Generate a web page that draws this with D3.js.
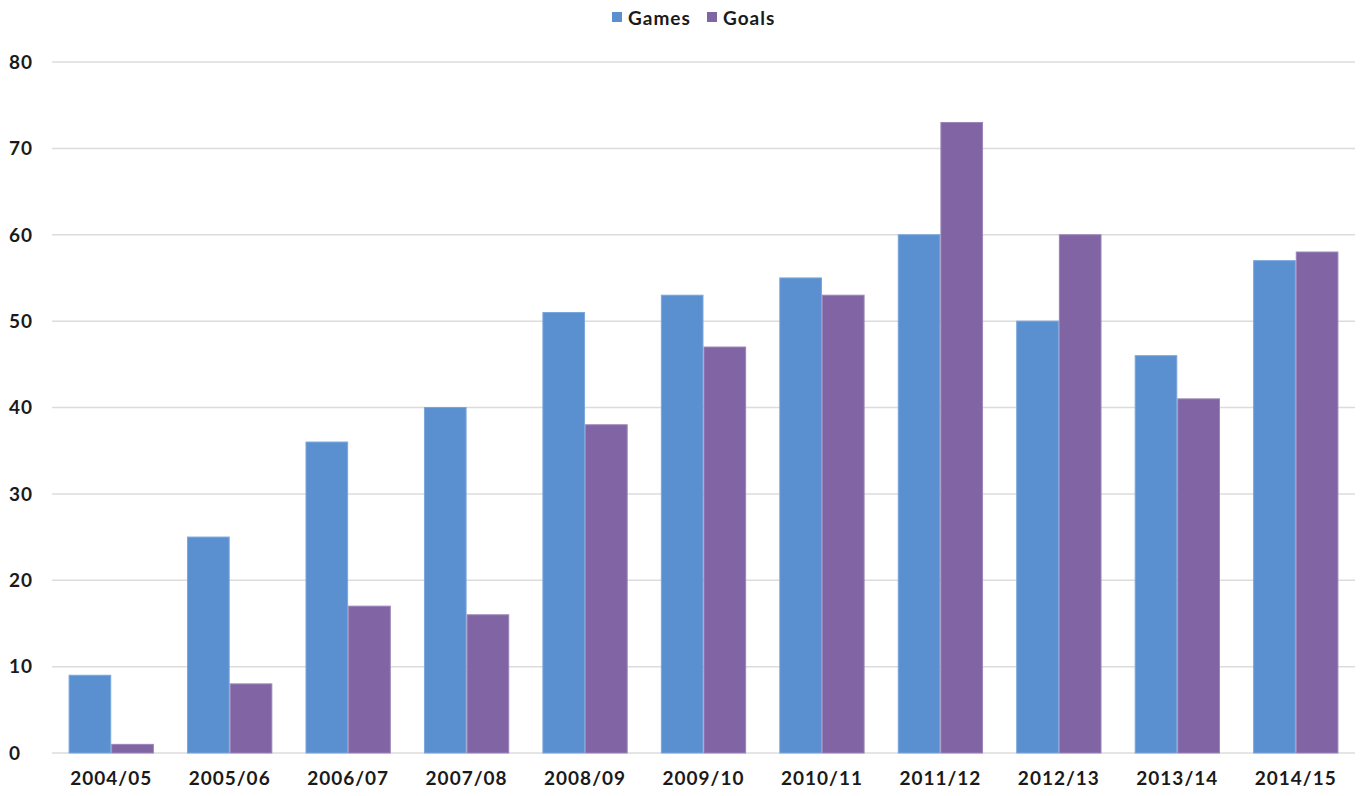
<!DOCTYPE html>
<html><head><meta charset="utf-8">
<script src="https://cdn.jsdelivr.net/npm/d3@7"></script>
<style>
body{margin:0;background:#fff;}
text{font-family:"Lato","Noto Sans",sans-serif;}
</style></head>
<body><svg id="c" width="1362" height="796"></svg>
<script>
const seasons = ["2004/05","2005/06","2006/07","2007/08","2008/09","2009/10","2010/11","2011/12","2012/13","2013/14","2014/15"];
const games = [9,25,36,40,51,53,55,60,50,46,57];
const goals = [1,8,17,16,38,47,53,73,60,41,58];
const seriesNames = ["Games","Goals"];
const yTicks = [0,10,20,30,40,50,60,70,80];
const colors = ["#5a8fd0","#8064a4"];

const svg = d3.select("#c");
const m = {left:52, right:7, top:62, bottom:43};
const W = 1362, H = 796;
const x = d3.scaleBand().domain(seasons).range([m.left, W-m.right]).paddingInner(0.28).paddingOuter(0.14);
const y = d3.scaleLinear().domain([0,80]).range([H-m.bottom, m.top]);
const x1 = d3.scaleBand().domain(seriesNames).range([0, x.bandwidth()]);
const fs = 19, ls = "1px";

svg.append("g").selectAll("line").data(yTicks).join("line")
  .attr("x1", m.left).attr("x2", W-m.right)
  .attr("y1", d=>y(d)).attr("y2", d=>y(d))
  .attr("stroke","#dcdcdc").attr("stroke-width",1.5);

svg.append("g").selectAll("text").data(yTicks).join("text")
  .attr("x", 9).attr("y", d=>y(d)).attr("dy","0.36em")
  .attr("font-size",fs).attr("font-weight",700).attr("letter-spacing",ls).attr("fill","#1a1a1a")
  .text(d=>d);

const data = seasons.map((s,i)=>({s, vals:[games[i],goals[i]]}));
const g = svg.append("g").selectAll("g").data(data).join("g")
  .attr("transform", d=>`translate(${x(d.s)},0)`);
g.selectAll("rect").data(d=>d.vals.map((v,j)=>({name:seriesNames[j], v, j}))).join("rect")
  .attr("x", d=>x1(d.name)+0.5).attr("width", x1.bandwidth()-1)
  .attr("y", d=>y(d.v)).attr("height", d=>y(0)-y(d.v))
  .attr("fill", d=>colors[d.j]).attr("stroke", d=>d.j===0?"#7aa6db":"#9b84b8").attr("stroke-width",1);

svg.append("g").selectAll("text").data(seasons).join("text")
  .attr("x", d=>x(d)+x.bandwidth()/2).attr("y", 778).attr("dy","0.36em")
  .attr("text-anchor","middle").attr("font-size",fs).attr("font-weight",700).attr("letter-spacing",ls).attr("fill","#1a1a1a")
  .text(d=>d);

const leg = svg.append("g");
const legItems = [{n:"Games",x:612},{n:"Goals",x:707}];
legItems.forEach((it,i)=>{
  leg.append("rect").attr("x",it.x).attr("y",12).attr("width",10).attr("height",10).attr("fill",colors[i]);
  leg.append("text").attr("x",it.x+16).attr("y",18).attr("dy","0.36em")
    .attr("font-size",fs).attr("font-weight",700).attr("letter-spacing",ls).attr("fill","#1a1a1a").text(it.n);
});
</script></body></html>
